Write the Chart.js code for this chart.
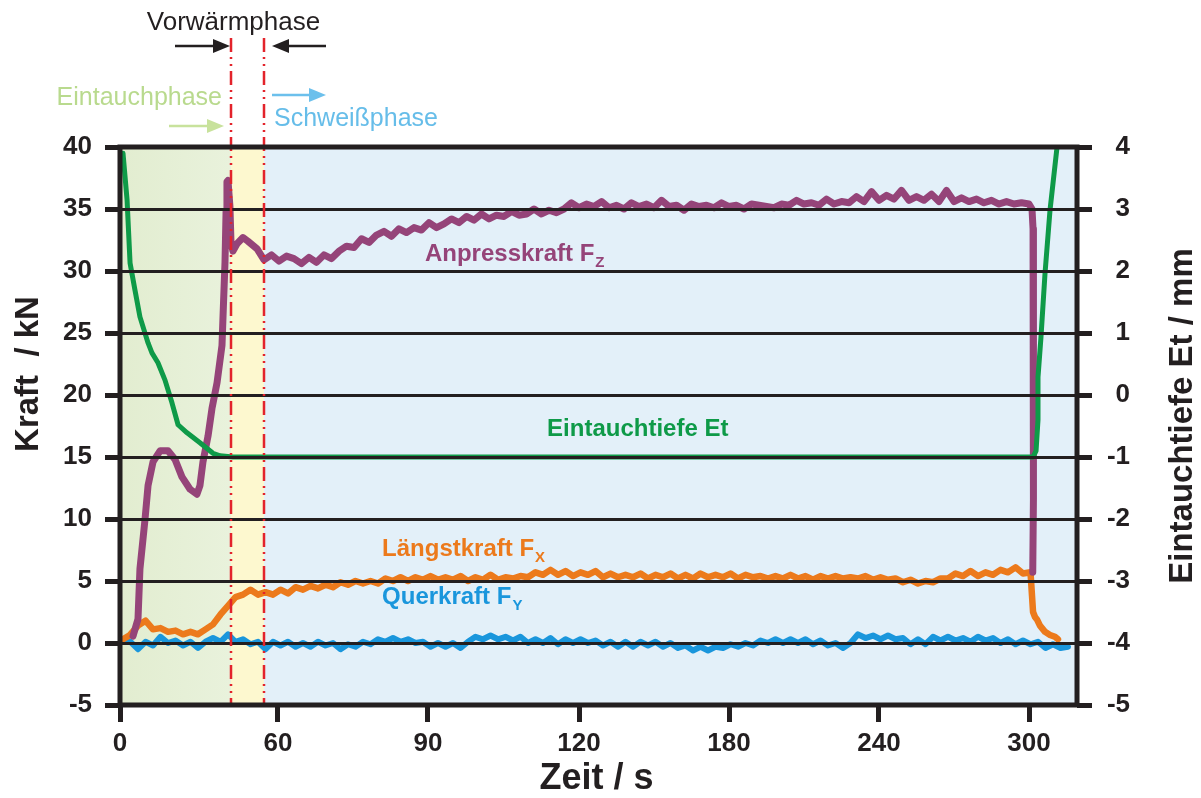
<!DOCTYPE html>
<html>
<head>
<meta charset="utf-8">
<script src="https://cdn.jsdelivr.net/npm/chart.js@4/dist/chart.umd.min.js"></script>
<style>
    html, body { margin: 0; padding: 0; background: #fff; }
    #wrap { width: 1201px; height: 798px; }
</style>
</head>
<body>
<div id="wrap"><canvas id="chart" width="1201" height="798"></canvas></div>
<script>
/* global Chart */

// The time axis of the original is not linear: the ticks sit (almost) evenly
// spaced but are labelled 0, 60, 90, 120, 180, 240, 300 s. So x values below
// are given in "tick spacing" units.
var xTickPos = [0, 1.053, 2.053, 3.06, 4.06, 5.06, 6.06];
var xTickLabels = ['0', '60', '90', '120', '180', '240', '300'];
var xMax = 6.38;

// start / end of the Vorwärmphase (red dash-dot lines)
var phaseBounds = [0.74, 0.96];

// sample spacing of the noisy traces
var sampleStep = 0.05;

// Eintauchtiefe Et in mm (right axis)
var etCurve = [
    [0.02, 3.9], [0.047, 3.15], [0.067, 2.13], [0.1, 1.69], [0.133, 1.26], [0.187, 0.84],
    [0.213, 0.68], [0.253, 0.52], [0.3, 0.24], [0.347, -0.13], [0.387, -0.48], [0.447, -0.61],
    [0.533, -0.77], [0.62, -0.94], [0.667, -0.98], [0.753, -1.0], [6.087, -1.0],
    [6.107, -0.9], [6.12, -0.4], [6.12, 0.29], [6.14, 0.94], [6.167, 1.97], [6.2, 2.98], [6.247, 4.0]
];

// Anpresskraft Fz in kN: plunge, welding (sampled), release
var fzPlunge = [
    [0.087, 0.56], [0.12, 1.94], [0.133, 5.97], [0.167, 10.0], [0.187, 12.7], [0.22, 14.6],
    [0.267, 15.5], [0.32, 15.5], [0.367, 14.8], [0.413, 13.4], [0.467, 12.4], [0.513, 12.0],
    [0.533, 12.7], [0.553, 14.6], [0.587, 16.7], [0.613, 18.9], [0.647, 21.0], [0.68, 24.0],
    [0.687, 26.4], [0.7, 30.7], [0.707, 34.8], [0.713, 37.2], [0.72, 37.3], [0.733, 35.2],
    [0.74, 32.3], [0.753, 31.6], [0.78, 32.2], [0.82, 32.7], [0.853, 32.4], [0.913, 31.8]
];
var fzWeldStart = 0.96;
var fzWeld = [
    30.9, 31.3, 30.8, 31.2, 31.0, 30.6, 31.1, 30.7, 31.3, 31.0,
    31.6, 32.0, 31.9, 32.6, 32.3, 32.9, 33.2, 32.8, 33.4, 33.1,
    33.5, 33.3, 33.9, 33.5, 33.8, 34.2, 33.9, 34.4, 34.1, 34.6,
    34.2, 34.5, 34.4, 34.8, 34.5, 34.6, 35.0, 34.6, 34.9, 34.7,
    35.0, 35.5, 35.1, 35.4, 35.2, 35.6, 35.1, 35.3, 35.0, 35.5,
    35.2, 35.4, 35.1, 35.7, 35.2, 35.3, 34.9, 35.4, 35.2, 35.3,
    35.1, 35.5, 35.2, 35.3, 35.0, 35.4, 35.3, 35.2, 35.1, 35.4,
    35.3, 35.7, 35.4, 35.5, 35.3, 35.8, 35.4, 35.6, 35.5, 36.0,
    35.6, 36.4, 35.7, 36.1, 35.8, 36.5, 35.7, 36.0, 35.7, 36.2,
    35.6, 36.5, 35.6, 35.9, 35.6, 35.8, 35.5, 35.7, 35.4, 35.6,
    35.4, 35.5, 35.4
];
var fzRelease = [
    [6.08, 35.0], [6.087, 33.4], [6.093, 28.0], [6.09, 22.9], [6.088, 18.1], [6.087, 11.6], [6.085, 5.7]
];

// Längstkraft Fx in kN
var fxStart = [[0.02, 0.3], [0.067, 0.65]];
var fxWeldStart = 0.12;
var fxWeld = [
    1.4, 1.8, 1.1, 1.2, 0.9, 1.0, 0.7, 0.9, 0.7, 1.1,
    1.5, 2.3, 3.0, 3.7, 3.9, 4.3, 3.9, 4.1, 3.9, 4.3,
    4.0, 4.5, 4.3, 4.6, 4.4, 4.7, 4.5, 4.9, 4.7, 5.0,
    4.8, 5.0, 4.8, 5.2, 5.0, 5.3, 5.0, 5.3, 5.1, 5.4,
    5.1, 5.3, 5.1, 5.4, 5.0, 5.3, 5.1, 5.5, 5.1, 5.3,
    5.2, 5.4, 5.3, 5.7, 5.5, 5.9, 5.5, 5.8, 5.4, 5.7,
    5.5, 5.8, 5.3, 5.6, 5.3, 5.5, 5.3, 5.6, 5.2, 5.5,
    5.3, 5.6, 5.2, 5.5, 5.2, 5.6, 5.3, 5.5, 5.3, 5.6,
    5.2, 5.5, 5.3, 5.4, 5.2, 5.4, 5.2, 5.5, 5.2, 5.4,
    5.1, 5.4, 5.2, 5.4, 5.2, 5.3, 5.2, 5.4, 5.1, 5.3,
    5.1, 5.2, 4.9, 5.1, 4.8, 5.0, 4.9, 5.2, 5.2, 5.6,
    5.4, 5.8, 5.4, 5.7, 5.5, 5.9, 5.7, 6.1, 5.6, 5.7
];
var fxRelease = [
    [6.087, 2.5], [6.1, 2.1], [6.113, 1.9], [6.133, 1.4], [6.167, 0.9], [6.2, 0.65], [6.233, 0.5], [6.253, 0.3]
];

// Querkraft Fy in kN
var fyStart = 0.02;
var fyValues = [
    0.3, 0.1, -0.5, 0.1, -0.2, 0.5, 0.0, 0.2, -0.2, 0.1,
    -0.4, 0.1, 0.4, 0.1, 0.7, 0.1, 0.3, -0.1, 0.1, -0.5,
    0.1, -0.2, 0.1, -0.3, 0.0, -0.3, 0.1, -0.2, 0.0, -0.5,
    -0.1, -0.3, 0.1, -0.1, 0.3, 0.1, 0.4, 0.1, 0.3, 0.0,
    0.1, -0.3, 0.0, -0.3, 0.0, -0.4, 0.1, 0.5, 0.3, 0.6,
    0.3, 0.5, 0.2, 0.5, 0.0, 0.3, 0.0, 0.4, -0.1, 0.3,
    0.0, 0.3, 0.0, 0.2, -0.2, 0.1, -0.3, 0.1, -0.3, 0.1,
    -0.2, 0.1, -0.3, 0.0, -0.4, -0.2, -0.6, -0.3, -0.6, -0.3,
    -0.4, -0.1, -0.3, 0.0, -0.2, 0.2, 0.0, 0.3, 0.0, 0.3,
    0.0, 0.3, -0.1, 0.2, -0.2, 0.0, -0.4, 0.0, 0.7, 0.4,
    0.6, 0.3, 0.6, 0.3, 0.4, -0.1, 0.3, -0.1, 0.5, 0.2,
    0.5, 0.2, 0.4, 0.1, 0.5, 0.2, 0.4, 0.0, 0.3, -0.1,
    0.2, -0.1, 0.1, -0.4, -0.1, -0.4, -0.3
];

(function () {

    var ink = '#231f20';
    var sans = '"Liberation Sans", Arial, Helvetica, sans-serif';
    var colors = {
        fz: '#954479',
        fx: '#ec7a1c',
        fy: '#1a96dc',
        et: '#0e9a48',
        red: '#e3232b'
    };

    // the tick numbers of the original are a condensed bold face
    var hasFont = function (name) {
        var c = document.createElement('canvas').getContext('2d');
        c.font = 'bold 30px monospace';
        var w1 = c.measureText('0123456789 Zeit').width;
        c.font = 'bold 30px "' + name + '", monospace';
        return c.measureText('0123456789 Zeit').width !== w1;
    };
    var narrow = hasFont('Liberation Sans Narrow');
    var tickFont = narrow
        ? { family: '"Liberation Sans Narrow", ' + sans, size: 30, weight: 'bold' }
        : { family: sans, size: 26, weight: 'bold' };

    var pairs = function (list) {
        return list.map(function (p) { return { x: p[0], y: p[1] }; });
    };
    var sampled = function (x0, values) {
        return values.map(function (v, i) { return { x: x0 + i * sampleStep, y: v }; });
    };

    var arrow = function (ctx, x1, x2, y, color) {
        var dir = x2 > x1 ? 1 : -1;
        var head = 17;
        ctx.strokeStyle = color;
        ctx.fillStyle = color;
        ctx.lineWidth = 2.5;
        ctx.setLineDash([]);
        ctx.beginPath();
        ctx.moveTo(x1, y);
        ctx.lineTo(x2 - dir * head, y);
        ctx.stroke();
        ctx.beginPath();
        ctx.moveTo(x2, y);
        ctx.lineTo(x2 - dir * head, y - 7);
        ctx.lineTo(x2 - dir * head, y + 7);
        ctx.closePath();
        ctx.fill();
    };

    var subLabel = function (ctx, text, sub, x, y, color) {
        ctx.fillStyle = color;
        ctx.textAlign = 'left';
        ctx.textBaseline = 'alphabetic';
        ctx.font = 'bold 24px ' + sans;
        ctx.fillText(text, x, y);
        if (sub) {
            var w = ctx.measureText(text).width;
            ctx.font = 'bold 15px ' + sans;
            ctx.fillText(sub, x + w + 1, y + 6);
        }
    };

    var vertical = function (ctx, text, x, y) {
        ctx.save();
        ctx.translate(x, y);
        ctx.rotate(-Math.PI / 2);
        ctx.textAlign = 'center';
        ctx.textBaseline = 'alphabetic';
        ctx.fillText(text, 0, 0);
        ctx.restore();
    };

    var phasePlugin = {
        id: 'phases',
        beforeDraw: function (chart) {
            var ctx = chart.ctx, a = chart.chartArea, xs = chart.scales.x;
            var p1 = xs.getPixelForValue(phaseBounds[0]);
            var p2 = xs.getPixelForValue(phaseBounds[1]);
            var h = a.bottom - a.top;
            ctx.save();
            var g = ctx.createLinearGradient(a.left, 0, p1, 0);
            g.addColorStop(0, '#e2edd0');
            g.addColorStop(1, '#e9f2dc');
            ctx.fillStyle = g;
            ctx.fillRect(a.left, a.top, p1 - a.left, h);
            ctx.fillStyle = '#fdf8cf';
            ctx.fillRect(p1, a.top, p2 - p1, h);
            ctx.fillStyle = '#e3f0f9';
            ctx.fillRect(p2, a.top, a.right - p2, h);
            ctx.restore();
        },
        afterDraw: function (chart) {
            var ctx = chart.ctx, a = chart.chartArea;
            var xs = chart.scales.x, ys = chart.scales.y;
            var p1 = xs.getPixelForValue(phaseBounds[0]);
            var p2 = xs.getPixelForValue(phaseBounds[1]);
            ctx.save();

            // phase borders
            ctx.strokeStyle = colors.red;
            ctx.lineWidth = 2.5;
            ctx.setLineDash([14, 5, 2, 5, 2, 5]);
            [p1, p2].forEach(function (p) {
                ctx.beginPath();
                ctx.moveTo(p, 38);
                ctx.lineTo(p, a.bottom);
                ctx.stroke();
            });
            ctx.setLineDash([]);

            // frame
            ctx.strokeStyle = ink;
            ctx.lineWidth = 5;
            ctx.strokeRect(a.left, a.top, a.right - a.left, a.bottom - a.top);

            // phase annotations above the plot
            ctx.font = '26px ' + sans;
            ctx.textBaseline = 'alphabetic';
            ctx.fillStyle = ink;
            ctx.textAlign = 'center';
            ctx.fillText('Vorwärmphase', (p1 + p2) / 2 - 14, 30);
            arrow(ctx, p1 - 56, p1 - 1, 46, ink);
            arrow(ctx, p2 + 62, p2 + 8, 46, ink);

            ctx.font = '25px ' + sans;
            ctx.textAlign = 'right';
            ctx.fillStyle = '#b9da8e';
            ctx.fillText('Eintauchphase', p1 - 9, 105);
            arrow(ctx, p1 - 62, p1 - 7, 126, '#c8e29c');

            ctx.textAlign = 'left';
            ctx.fillStyle = '#66bde9';
            ctx.fillText('Schweißphase', p2 + 10, 126);
            arrow(ctx, p2 + 8, p2 + 62, 95, '#6cc0ec');

            // curve labels
            subLabel(ctx, 'Anpresskraft F', 'Z', xs.getPixelForValue(2.033), ys.getPixelForValue(30.8), colors.fz);
            subLabel(ctx, 'Eintauchtiefe Et', '', xs.getPixelForValue(2.847), ys.getPixelForValue(16.7), colors.et);
            subLabel(ctx, 'Längstkraft F', 'X', xs.getPixelForValue(1.747), ys.getPixelForValue(7.0), colors.fx);
            subLabel(ctx, 'Querkraft F', 'Y', xs.getPixelForValue(1.747), ys.getPixelForValue(3.15), colors.fy);

            // axis titles
            ctx.fillStyle = ink;
            ctx.font = 'bold 36px ' + sans;
            ctx.textAlign = 'center';
            ctx.fillText('Zeit / s', (a.left + a.right) / 2 - 2, 789);
            ctx.font = 'bold 33px ' + sans;
            vertical(ctx, 'Kraft  / kN', 38, 374);
            vertical(ctx, 'Eintauchtiefe Et / mm', 1192, 416);
            ctx.restore();
        }
    };

    var line = function (label, data, color, width, axis) {
        return {
            label: label,
            data: data,
            borderColor: color,
            backgroundColor: color,
            borderWidth: width,
            pointRadius: 0,
            tension: 0,
            fill: false,
            yAxisID: axis,
            borderJoinStyle: 'round',
            borderCapStyle: 'round'
        };
    };

    var context = document.getElementById('chart').getContext('2d');

    var config = {
        type: 'line',
        data: {
            datasets: [
                line('Eintauchtiefe Et', pairs(etCurve), colors.et, 5, 'yEt'),
                line('Anpresskraft Fz', pairs(fzPlunge).concat(sampled(fzWeldStart, fzWeld), pairs(fzRelease)), colors.fz, 7, 'y'),
                line('Längstkraft Fx', pairs(fxStart).concat(sampled(fxWeldStart, fxWeld), pairs(fxRelease)), colors.fx, 6.5, 'y'),
                line('Querkraft Fy', sampled(fyStart, fyValues), colors.fy, 6, 'y')
            ]
        },
        options: {
            responsive: false,
            animation: false,
            layout: { padding: { top: 147, right: 71, left: 0, bottom: 0 } },
            plugins: {
                legend: { display: false },
                tooltip: { enabled: false }
            },
            scales: {
                x: {
                    type: 'linear',
                    min: 0,
                    max: xMax,
                    afterBuildTicks: function (scale) {
                        scale.ticks = xTickPos.map(function (v) { return { value: v }; });
                    },
                    afterFit: function (scale) { scale.height = 93; },
                    grid: { drawOnChartArea: false, tickLength: 17, tickWidth: 5, tickColor: ink, z: 1 },
                    border: { display: false },
                    ticks: {
                        callback: function (value, index) { return xTickLabels[index]; },
                        font: tickFont,
                        color: ink,
                        padding: 6,
                        maxRotation: 0,
                        autoSkip: false
                    }
                },
                y: {
                    position: 'left',
                    min: -5,
                    max: 40,
                    afterFit: function (scale) { scale.width = 120; },
                    grid: { color: ink, lineWidth: 3, tickLength: 15, tickWidth: 5, tickColor: ink, z: 1 },
                    border: { display: false },
                    ticks: { stepSize: 5, font: tickFont, color: ink, padding: 13 }
                },
                yEt: {
                    position: 'right',
                    min: -5,
                    max: 4,
                    afterFit: function (scale) { scale.width = 53; },
                    grid: { drawOnChartArea: false, tickLength: 15, tickWidth: 5, tickColor: ink, z: 1 },
                    border: { display: false },
                    ticks: { stepSize: 1, font: tickFont, color: ink, padding: 8, crossAlign: 'far' }
                }
            }
        },
        plugins: [phasePlugin]
    };

    new Chart(context, config);

})();
</script>
</body>
</html>
